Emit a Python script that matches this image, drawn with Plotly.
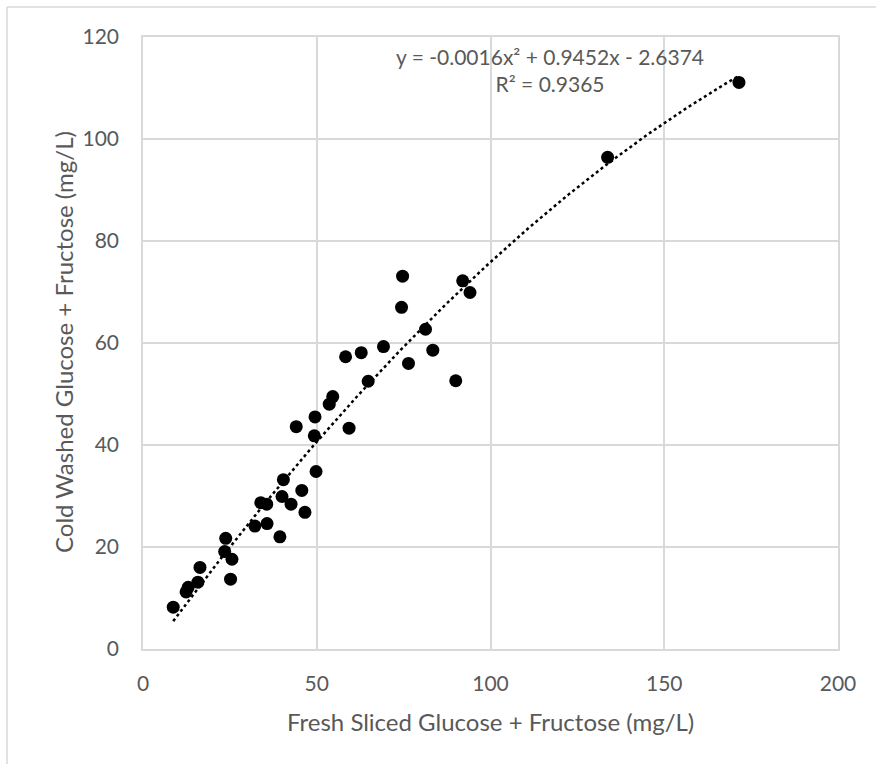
import plotly.graph_objects as go
import numpy as np

fresh = [8.7, 12.4, 13.0, 15.8, 16.4, 23.8, 23.5, 25.6, 25.2, 32.2,
         35.7, 39.4, 33.9, 35.6, 40.0, 42.6, 40.4, 45.7, 46.6, 49.8,
         44.1, 49.3, 49.5, 59.3, 53.6, 54.6, 64.8, 58.3, 62.8, 69.2,
         76.4, 74.4, 74.7, 81.3, 83.4, 90.0, 92.0, 94.1, 133.7, 171.5]
cold = [8.2, 11.2, 12.1, 13.1, 16.0, 21.7, 19.1, 17.6, 13.7, 24.1,
        24.6, 22.0, 28.7, 28.4, 29.9, 28.4, 33.2, 31.1, 26.8, 34.8,
        43.6, 41.8, 45.5, 43.3, 48.0, 49.5, 52.5, 57.3, 58.1, 59.3,
        56.0, 67.0, 73.1, 62.7, 58.6, 52.6, 72.2, 69.9, 96.4, 111.1]

coef = [-0.0016, 0.9452, -2.6374]
eq_text = "y = -0.0016x² + 0.9452x - 2.6374<br>R² = 0.9365"
x_title = "Fresh Sliced Glucose + Fructose (mg/L)"
y_title = "Cold Washed Glucose + Fructose (mg/L)"

FONT = "Lato"
TXT = "#595959"
GRID = "#d9d9d9"

xt = np.linspace(min(fresh), max(fresh), 200)
yt = np.polyval(coef, xt)

L, R, T, B = 143, 38, 37, 115
W, H = 876, 764
pw, ph = W - L - R, H - T - B
def px(x): return (x - L) / pw
def py(y): return (H - B - y) / ph

fig = go.Figure()
fig.add_trace(go.Scatter(x=xt, y=yt, mode="lines",
                         line=dict(color="black", width=2.5, dash="dot"),
                         hoverinfo="skip", showlegend=False))
fig.add_trace(go.Scatter(x=fresh, y=cold, mode="markers",
                         marker=dict(color="black", size=13),
                         showlegend=False))

fig.add_annotation(x=px(550), y=py(42), xref="paper", yref="paper",
                   text=eq_text, showarrow=False, xanchor="center", yanchor="top",
                   font=dict(family=FONT, size=21, color=TXT), align="center")

# axis titles
fig.add_annotation(x=px(490.5), y=py(721), xref="paper", yref="paper",
                   text=x_title, showarrow=False, xanchor="center", yanchor="middle",
                   font=dict(family=FONT, size=24, color=TXT))
fig.add_annotation(x=px(63), y=py(342), xref="paper", yref="paper",
                   text=y_title, showarrow=False, xanchor="center", yanchor="middle",
                   textangle=-90,
                   font=dict(family=FONT, size=24, color=TXT))

fig.add_shape(type="line", xref="paper", yref="paper",
              x0=px(7), x1=px(880), y0=py(7), y1=py(7),
              line=dict(color="#d9d9d9", width=1.5))
fig.add_shape(type="line", xref="paper", yref="paper",
              x0=px(7), x1=px(7), y0=py(7), y1=py(770),
              line=dict(color="#d9d9d9", width=1.5))

fig.update_layout(
    width=W, height=H,
    margin=dict(l=L, r=R, t=T, b=B),
    paper_bgcolor="white", plot_bgcolor="white",
    font=dict(family=FONT, size=21, color=TXT),
    xaxis=dict(range=[0, 200], tickvals=[0, 50, 100, 150, 200],
               showgrid=True, gridcolor=GRID, gridwidth=1.5,
               zeroline=False, showline=True, linecolor=GRID, linewidth=1.5,
               mirror=True, ticks="", ticklabelstandoff=15,
               tickfont=dict(family=FONT, size=21, color=TXT)),
    yaxis=dict(range=[0, 120], tickvals=[0, 20, 40, 60, 80, 100, 120],
               showgrid=True, gridcolor=GRID, gridwidth=1.5,
               zeroline=False, showline=True, linecolor=GRID, linewidth=1.5,
               mirror=True, ticks="", ticklabelstandoff=18,
               tickfont=dict(family=FONT, size=21, color=TXT)),
)

fig.write_html("out.html")
